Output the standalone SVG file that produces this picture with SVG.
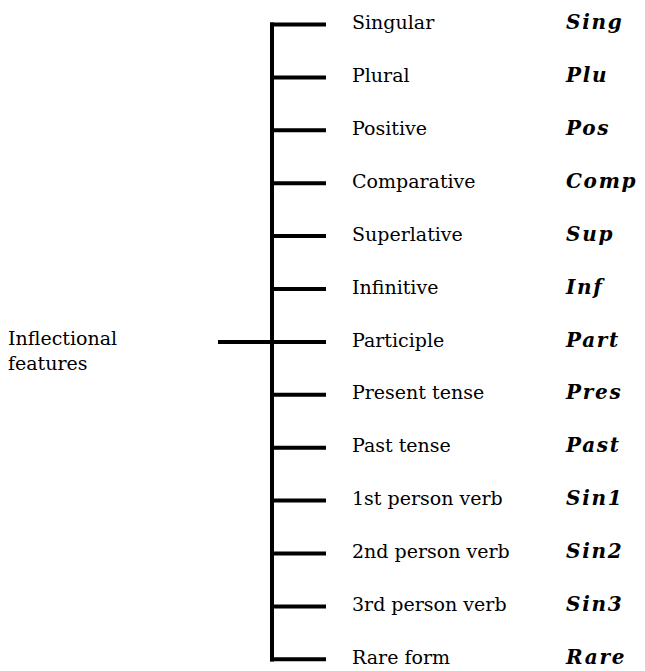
<svg xmlns="http://www.w3.org/2000/svg" width="645" height="671" viewBox="0 0 645 671">
<style>
.ln{stroke:#000;stroke-width:4;fill:none}
.lb{font-family:"DejaVu Serif","Liberation Serif",serif;font-size:19px;fill:#000}
.ab{font-family:"DejaVu Serif","Liberation Serif",serif;font-size:20px;font-weight:bold;font-style:italic;letter-spacing:1.7px;fill:#000}
</style>
<rect width="645" height="671" fill="#fff"/>
<g id="connectors">
<path class="ln" d="M272,22.5V661.5"/>
<path class="ln" d="M218,342H272"/>
<path class="ln" d="M270,24.5H326M272,77.4H326M272,130.3H326M272,183.2H326M272,236.1H326M272,289H326M272,342H326M272,394.8H326M272,447.7H326M272,500.6H326M272,553.5H326M272,606.4H326M270,659.3H326"/>
</g>
<g id="root"><text class="lb" x="8" y="345">Inflectional</text><text class="lb" x="8" y="370">features</text></g>
<g id="n1"><text class="lb" x="352" y="29">Singular</text><text class="ab" x="566" y="29">Sing</text></g>
<g id="n2"><text class="lb" x="352" y="82">Plural</text><text class="ab" x="566" y="82">Plu</text></g>
<g id="n3"><text class="lb" x="352" y="135">Positive</text><text class="ab" x="566" y="135">Pos</text></g>
<g id="n4"><text class="lb" x="352" y="188">Comparative</text><text class="ab" x="566" y="188">Comp</text></g>
<g id="n5"><text class="lb" x="352" y="241">Superlative</text><text class="ab" x="566" y="241">Sup</text></g>
<g id="n6"><text class="lb" x="352" y="294">Infinitive</text><text class="ab" x="566" y="294">Inf</text></g>
<g id="n7"><text class="lb" x="352" y="347">Participle</text><text class="ab" x="566" y="347">Part</text></g>
<g id="n8"><text class="lb" x="352" y="399">Present tense</text><text class="ab" x="566" y="399">Pres</text></g>
<g id="n9"><text class="lb" x="352" y="452">Past tense</text><text class="ab" x="566" y="452">Past</text></g>
<g id="n10"><text class="lb" x="352" y="505">1st person verb</text><text class="ab" x="566" y="505">Sin1</text></g>
<g id="n11"><text class="lb" x="352" y="558">2nd person verb</text><text class="ab" x="566" y="558">Sin2</text></g>
<g id="n12"><text class="lb" x="352" y="611">3rd person verb</text><text class="ab" x="566" y="611">Sin3</text></g>
<g id="n13"><text class="lb" x="352" y="664">Rare form</text><text class="ab" x="566" y="664">Rare</text></g>
</svg>
